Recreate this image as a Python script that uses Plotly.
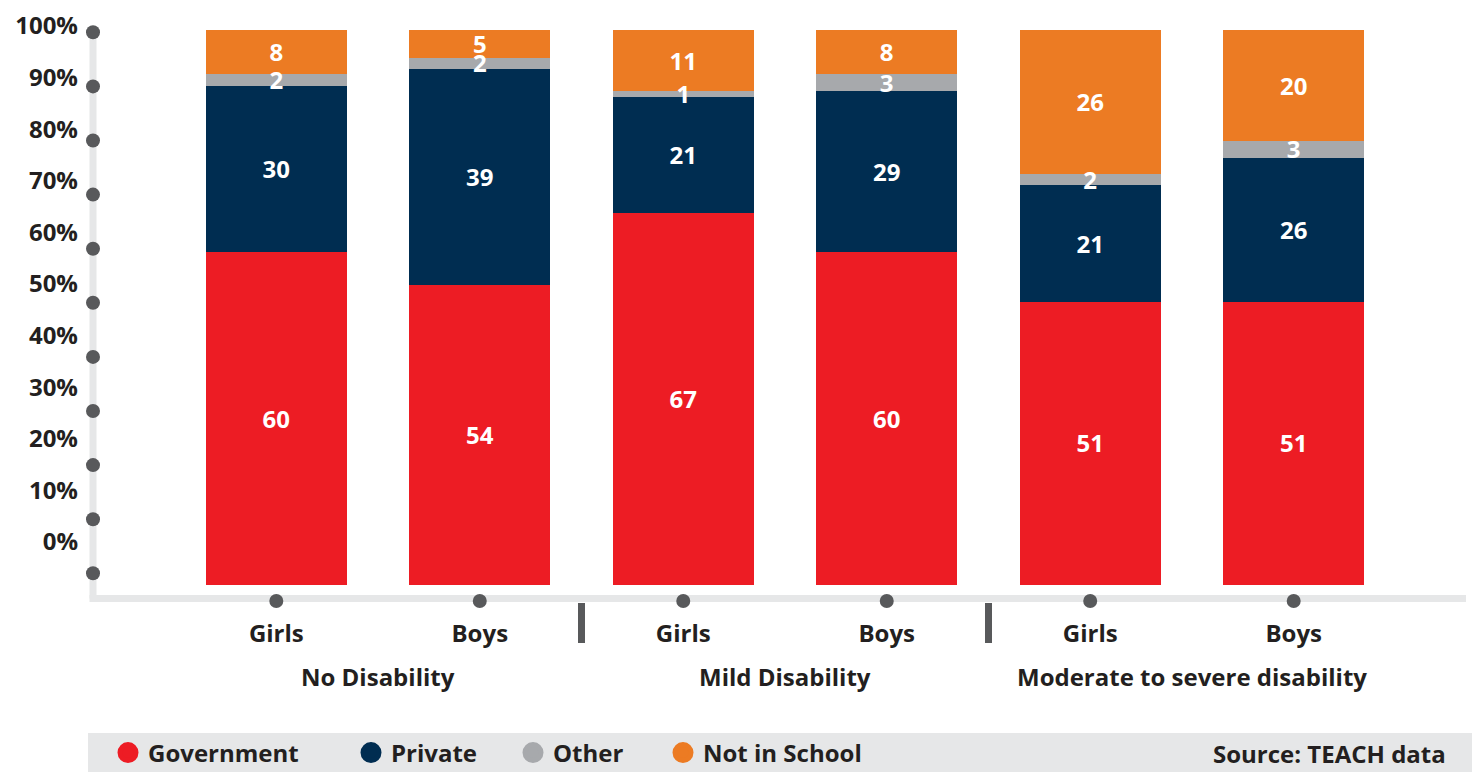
import plotly.graph_objects as go

# ---------------- data ----------------
groups = ["No Disability", "Mild Disability", "Moderate to severe disability"]
sexes = ["Girls", "Boys"]
government = [60, 54, 67, 60, 51, 51]
private = [30, 39, 21, 29, 21, 26]
other = [2, 2, 1, 3, 2, 3]
not_in_school = [8, 5, 11, 8, 26, 20]
series_names = ["Government", "Private", "Other", "Not in School"]
series_values = [government, private, other, not_in_school]
y_tick_values = [0, 10, 20, 30, 40, 50, 60, 70, 80, 90, 100]
y_tick_labels = [f"{v}%" for v in y_tick_values]
source_text = "Source: TEACH data"

# ---------------- style ----------------
series_colors = ["#ED1C24", "#002D51", "#A7A9AC", "#EC7B23"]
TEXT = "#231F20"
LINE = "#E6E7E8"
DOT = "#58595B"
FONT = "Open Sans, Noto Sans, sans-serif"
W, H = 1477, 772
PL, PR, PT, PB = 80, 1474, 18, 614          # plot area in pixels
ML, MR, MT, MB = PL, W - PR, PT, H - PB
PLOT_W, PLOT_H = PR - PL, PB - PT


def axis_range(p_a, v_a, p_b, v_b, p_lo, p_hi):
    s = (v_b - v_a) / (p_b - p_a)
    return [v_a + (p_lo - p_a) * s, v_a + (p_hi - p_a) * s]


def to_val(rng, p_lo, p_hi, p):
    return rng[0] + (p - p_lo) * (rng[1] - rng[0]) / (p_hi - p_lo)


x_pos = list(range(len(groups) * len(sexes)))
tick_text = [s for _ in groups for s in sexes]
group_centers = [sum(x_pos[i * 2:(i + 1) * 2]) / 2 for i in range(len(groups))]
dividers = [(x_pos[i * 2 + 1] + x_pos[i * 2 + 2]) / 2 for i in range(len(groups) - 1)]

X_RANGE = axis_range(276.3, 0, 1293.7, 5, PL, PR)
Y_RANGE = axis_range(585, 0, 30, 100, PB, PT)      # bars
Y2_RANGE = axis_range(542, 0, 26, 100, PB, PT)     # tick labels
Y3_RANGE = axis_range(573.3, 0, 32.3, 100, PB, PT)  # axis dots
PX_PER_Y = PLOT_H / (Y_RANGE[1] - Y_RANGE[0])

AX_X = to_val(X_RANGE, PL, PR, 93)          # vertical axis line position
AX_Y = to_val(Y_RANGE, PB, PT, 598.5)       # horizontal axis line position
LABEL_DROP = 3 / PX_PER_Y                   # small downward nudge of value labels (3 px)

fig = go.Figure()

for name, vals, col in zip(series_names, series_values, series_colors):
    fig.add_trace(go.Bar(
        x=x_pos, y=vals, name=name, marker=dict(color=col, line=dict(width=0)),
        width=0.693, showlegend=False, hoverinfo="x+y+name",
    ))

# value labels, drawn above all bars
base = [0] * len(x_pos)
for name, vals in zip(series_names, series_values):
    mids = [b + v / 2 - LABEL_DROP for b, v in zip(base, vals)]
    fig.add_trace(go.Scatter(
        x=x_pos, y=mids, mode="text", text=[str(v) for v in vals],
        textposition="middle center", cliponaxis=False,
        textfont=dict(color="white", size=24, family=FONT, weight=700),
        showlegend=False, hoverinfo="skip"))
    base = [b + v for b, v in zip(base, vals)]

# dots along the axes
fig.add_trace(go.Scatter(
    x=[AX_X] * len(y_tick_values), y=y_tick_values, yaxis="y3",
    mode="markers", marker=dict(size=14, color=DOT),
    showlegend=False, hoverinfo="skip"))
fig.add_trace(go.Scatter(
    x=x_pos, y=[to_val(Y_RANGE, PB, PT, 601)] * len(x_pos),
    mode="markers", marker=dict(size=14, color=DOT),
    showlegend=False, hoverinfo="skip"))
# invisible trace so the label axis is rendered
fig.add_trace(go.Scatter(x=[None], y=[None], yaxis="y2", showlegend=False, hoverinfo="skip"))

# legend entries (circles)
legend_ids = ["legend", "legend2", "legend3", "legend4"]
legend_px = [130, 373, 535, 685]
for name, col, lid in zip(series_names, series_colors, legend_ids):
    fig.add_trace(go.Scatter(
        x=[None], y=[None], mode="markers", name=name, legend=lid,
        marker=dict(size=16, color=col, line=dict(width=5, color=col)),
        showlegend=True))

legend_font = dict(family=FONT, size=24, color=TEXT, weight=700)
leg_y = (PB - 753) / PLOT_H
legend_layouts = {}
for lid, px in zip(legend_ids, legend_px):
    legend_layouts[lid] = dict(
        x=(px - 22 - PL) / PLOT_W, xanchor="left", y=leg_y, yanchor="middle",
        orientation="h", bgcolor="rgba(0,0,0,0)", font=legend_font,
        itemclick=False, itemdoubleclick=False)

shapes = [
    # axis lines
    dict(type="line", xref="x", yref="y", x0=AX_X, x1=AX_X,
         y0=AX_Y, y1=to_val(Y_RANGE, PB, PT, 30),
         line=dict(color=LINE, width=7), layer="below"),
    dict(type="line", xref="x", yref="y", x0=AX_X - 3.5 * (X_RANGE[1] - X_RANGE[0]) / PLOT_W,
         x1=to_val(X_RANGE, PL, PR, 1466), y0=AX_Y, y1=AX_Y,
         line=dict(color=LINE, width=7), layer="below"),
]
for d in dividers:
    shapes.append(dict(type="line", xref="x", x0=d, x1=d, yref="paper",
                       ysizemode="pixel", yanchor=0, y0=PB - 603, y1=PB - 643,
                       line=dict(color=DOT, width=7)))
shapes.append(dict(type="rect", xref="paper", x0=(88 - PL) / PLOT_W, x1=(1472 - PL) / PLOT_W,
                   yref="paper", ysizemode="pixel", yanchor=0, y0=PB - 733, y1=PB - 800,
                   fillcolor=LINE, line=dict(width=0), layer="below"))

annotations = []
for g, c in zip(groups, group_centers):
    annotations.append(dict(text=g, x=c, xref="x", y=0, yref="paper", yanchor="middle",
                            yshift=-(676 - PB), showarrow=False,
                            font=dict(family=FONT, size=24, color=TEXT, weight=700)))
annotations.append(dict(text=source_text, x=(1448 - PL) / PLOT_W, xref="paper", xanchor="right",
                        y=0, yref="paper", yanchor="middle", yshift=-(753 - PB), showarrow=False,
                        font=dict(family=FONT, size=24, color=TEXT, weight=700)))

fig.update_layout(
    width=W, height=H, margin=dict(l=ML, r=MR, t=MT, b=MB, autoexpand=False),
    barmode="stack", plot_bgcolor="rgba(0,0,0,0)", paper_bgcolor="white",
    font=dict(family=FONT, color=TEXT),
    xaxis=dict(range=X_RANGE, tickvals=x_pos, ticktext=tick_text, showline=False,
               showgrid=False, zeroline=False, ticks="", automargin=False,
               tickfont=dict(family=FONT, size=24, color=TEXT, weight=700),
               ticklabelstandoff=3),
    yaxis=dict(range=Y_RANGE, showline=False, showticklabels=False, showgrid=False,
               zeroline=False, ticks="", automargin=False),
    yaxis2=dict(range=Y2_RANGE, overlaying="y", side="left", tickvals=y_tick_values,
                ticktext=y_tick_labels, showline=False, showgrid=False, zeroline=False,
                ticks="", ticklabelstandoff=1, automargin=False,
                tickfont=dict(family=FONT, size=24, color=TEXT, weight=700)),
    yaxis3=dict(range=Y3_RANGE, overlaying="y", visible=False),
    shapes=shapes, annotations=annotations,
    **legend_layouts,
)

fig.write_html("out.html", config={"displayModeBar": False},
               post_script="document.body.style.margin='0px';")
